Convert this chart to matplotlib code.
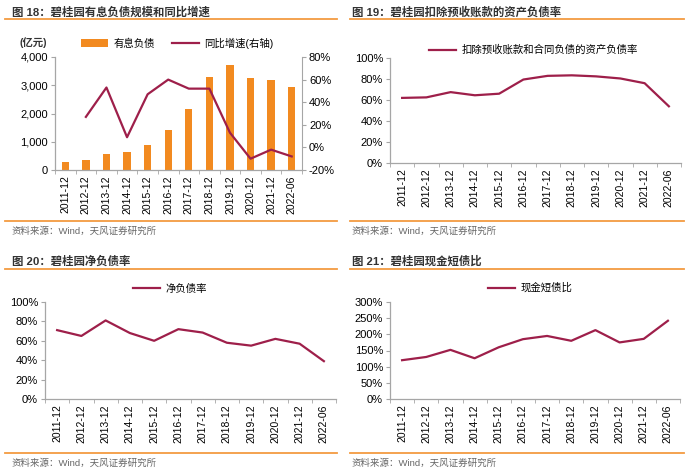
"""Country Garden debt charts: four panels recreated with matplotlib."""

import matplotlib
matplotlib.use("Agg")
import matplotlib.pyplot as plt
from matplotlib.ticker import FuncFormatter, MultipleLocator

plt.rcParams["font.family"] = ["Liberation Sans", "Noto Sans CJK SC"]

periods = ["2011-12", "2012-12", "2013-12", "2014-12", "2015-12", "2016-12",
           "2017-12", "2018-12", "2019-12", "2020-12", "2021-12", "2022-06"]

# 图18 有息负债（亿元）及同比增速（%）
debt = [280, 370, 570, 620, 900, 1430, 2160, 3280, 3700, 3250, 3170, 2930]
debt_yoy = [None, 27, 53, 9, 47, 60, 52, 52, 13, -10, -2, -8]

# 图19 扣除预收账款和合同负债的资产负债率（%）
adj_liab_ratio = [62, 62.5, 67.5, 64.5, 66, 79.5, 83, 83.5, 82.5, 80.5, 76, 54]

# 图20 净负债率（%）
net_gearing = [71, 65, 81, 68, 60, 72, 68.5, 58, 55, 62, 57, 39]

# 图21 现金短债比（%）
cash_st_debt = [120, 130, 152, 126, 160, 185, 195, 180, 213, 175, 186, 242]

ORANGE = "#F28A20"
LINE = "#9E1F4A"
SPINE = "#A6A6A6"
W, H = 700, 476

fig = plt.figure(figsize=(W / 100, H / 100), dpi=100)


def px_axes(left, top, right, bottom):
    return fig.add_axes([left / W, 1 - bottom / H, (right - left) / W, (bottom - top) / H])


def frame(x0, x1, text_x, title_y, line_y, bottom_line_y, title):
    fig.text(text_x / W, 1 - title_y / H, title, fontsize=8.2, fontweight="bold",
             color="#333333", va="center", ha="left")
    fig.add_artist(plt.Line2D([x0 / W, x1 / W], [1 - line_y / H] * 2,
                              color=ORANGE, lw=1.3, alpha=0.85))
    fig.add_artist(plt.Line2D([x0 / W, x1 / W], [1 - bottom_line_y / H] * 2,
                              color=ORANGE, lw=1.3, alpha=0.85))
    fig.text(text_x / W, 1 - (bottom_line_y + 10) / H,
             "资料来源：Wind，天风证券研究所", fontsize=6.8,
             color="#666666", va="center", ha="left")


def style_axes(ax):
    ax.set_xlim(-0.5, len(periods) - 0.5)
    ax.set_xticks(list(range(len(periods))))
    ax.set_xticklabels(periods, rotation=90, fontsize=7.5)
    ax.set_xticks([i + 0.5 for i in range(-1, len(periods))], minor=True)
    ax.tick_params(axis="x", which="major", length=0, pad=4)
    ax.tick_params(axis="x", which="minor", length=3, color=SPINE)
    ax.tick_params(axis="y", length=3, color=SPINE, labelsize=8, pad=2)
    for s in ["top", "right"]:
        ax.spines[s].set_visible(False)
    for s in ["left", "bottom"]:
        ax.spines[s].set_color(SPINE)
        ax.spines[s].set_linewidth(0.9)


pct = FuncFormatter(lambda v, _: f"{v:.0f}%")
x = list(range(len(periods)))

# ---- 图18 ----
frame(5, 337, 12, 12, 19, 221, "图 18：碧桂园有息负债规模和同比增速")
ax1 = px_axes(55, 57, 302, 170)
style_axes(ax1)
bars = ax1.bar(x, debt, width=0.36, color=ORANGE, label="有息负债")
ax1.set_ylim(0, 4000)
ax1.yaxis.set_major_locator(MultipleLocator(1000))
ax1.yaxis.set_major_formatter(FuncFormatter(lambda v, _: f"{v:,.0f}"))
ax1r = ax1.twinx()
ax1r.plot(x[1:], debt_yoy[1:], color=LINE, lw=1.6, label="同比增速(右轴)")
ax1r.set_ylim(-20, 80)
ax1r.yaxis.set_major_locator(MultipleLocator(20))
ax1r.yaxis.set_major_formatter(pct)
ax1r.tick_params(axis="y", length=3, color=SPINE, labelsize=8, pad=2)
for s in ["top", "left", "bottom"]:
    ax1r.spines[s].set_visible(False)
ax1r.spines["right"].set_color(SPINE)
fig.text(20 / W, 1 - 43 / H, "(亿元)", fontsize=7.5, fontweight="bold",
         color="#333333", va="center")
fig.legend(handles=[bars, ax1r.lines[0]], loc="center left",
           bbox_to_anchor=(72 / W, 1 - 43 / H), ncol=2, frameon=False,
           fontsize=7.5, handlelength=2.6, columnspacing=1.6, handletextpad=0.5)

# ---- 图19 ----
frame(350, 684, 352, 12, 19, 221, "图 19：碧桂园扣除预收账款的资产负债率")
ax2 = px_axes(390, 58, 681, 163)
style_axes(ax2)
ax2.plot(x, adj_liab_ratio, color=LINE, lw=1.6, label="扣除预收账款和合同负债的资产负债率")
ax2.set_ylim(0, 100)
ax2.yaxis.set_major_locator(MultipleLocator(20))
ax2.yaxis.set_major_formatter(pct)
fig.legend(handles=ax2.lines, loc="center left", bbox_to_anchor=(420 / W, 1 - 50 / H),
           frameon=False, fontsize=7.5, handlelength=2.6, handletextpad=0.5)

# ---- 图20 ----
frame(5, 337, 12, 261, 269, 453, "图 20：碧桂园净负债率")
ax3 = px_axes(45, 302, 336, 399)
style_axes(ax3)
ax3.plot(x, net_gearing, color=LINE, lw=1.6, label="净负债率")
ax3.set_ylim(0, 100)
ax3.yaxis.set_major_locator(MultipleLocator(20))
ax3.yaxis.set_major_formatter(pct)
fig.legend(handles=ax3.lines, loc="center left", bbox_to_anchor=(124 / W, 1 - 289 / H),
           frameon=False, fontsize=7.5, handlelength=2.6, handletextpad=0.5)

# ---- 图21 ----
frame(350, 684, 352, 261, 269, 453, "图 21：碧桂园现金短债比")
ax4 = px_axes(390, 302, 680, 399)
style_axes(ax4)
ax4.plot(x, cash_st_debt, color=LINE, lw=1.6, label="现金短债比")
ax4.set_ylim(0, 300)
ax4.yaxis.set_major_locator(MultipleLocator(50))
ax4.yaxis.set_major_formatter(pct)
fig.legend(handles=ax4.lines, loc="center left", bbox_to_anchor=(479 / W, 1 - 288 / H),
           frameon=False, fontsize=7.5, handlelength=2.6, handletextpad=0.5)

fig.savefig("out.png", dpi=100)
